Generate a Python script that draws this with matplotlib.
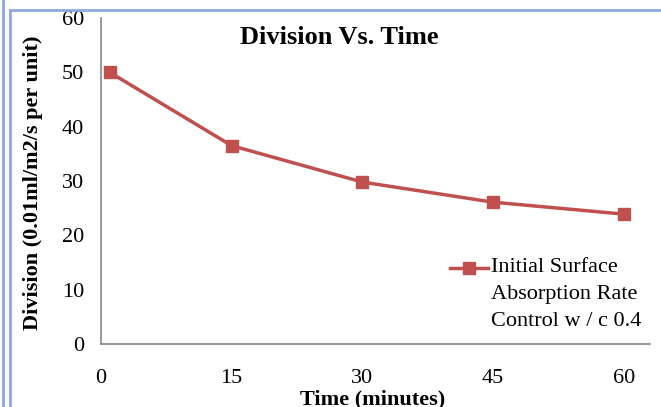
import matplotlib
matplotlib.use('Agg')
import matplotlib.pyplot as plt
from matplotlib.lines import Line2D

# Initial surface absorption readings, w/c 0.4 control mix
time_min = [1, 15, 30, 45, 60]
division = [50, 36.5, 29.8, 26.1, 23.9]
x_ticks = [0, 15, 30, 45, 60]
y_ticks = [0, 10, 20, 30, 40, 50, 60]
series_label = ["Initial Surface", "Absorption Rate", "Control w / c 0.4"]

RED = '#C0504D'
AXIS = '#868686'
FRAME = '#8EAADB'
W, H = 661, 407

plt.rcParams['font.family'] = ['Liberation Serif', 'DejaVu Serif']

fig = plt.figure(figsize=(W / 100, H / 100), dpi=100)
ax = fig.add_axes([101 / W, 1 - 344 / H, 549 / W, 326 / H])

ax.plot(time_min, division, color=RED, lw=2.5, marker='s', ms=8.5,
        markerfacecolor=RED, markeredgecolor=RED, clip_on=False)

ax.set_xlim(0, 63)
ax.set_ylim(0, 60)
ax.set_xticks(x_ticks)
ax.set_yticks(y_ticks)
ax.tick_params(axis='both', length=0, labelsize=16, colors='black')
ax.tick_params(axis='y', pad=12)
ax.tick_params(axis='x', pad=18)
for s in ('top', 'right'):
    ax.spines[s].set_visible(False)
for s in ('left', 'bottom'):
    ax.spines[s].set_color(AXIS)
    ax.spines[s].set_linewidth(1.2)

# titles sit in figure coords, like the spreadsheet layout
fig.text(339 / W, 1 - 38 / H, 'Division Vs. Time', ha='center', va='center',
         fontsize=19, fontweight='bold')
fig.text(33 / W, 1 - 183 / H, 'Division (0.01ml/m2/s per unit)', rotation=90,
         ha='center', va='center', fontsize=16, fontweight='bold')
fig.text(373 / W, 1 - 399 / H, 'Time (minutes)', ha='center', va='center',
         fontsize=16, fontweight='bold')

# legend entry: line with marker, then wrapped label
fig.add_artist(Line2D([450 / W, 488 / W], [1 - 268 / H] * 2, color=RED, lw=2.5))
fig.add_artist(Line2D([469 / W], [1 - 268 / H], color=RED, marker='s', ms=8.5))
for i, line in enumerate(series_label):
    fig.text(491 / W, 1 - (268 + 27 * i) / H, line, ha='left', va='center',
             fontsize=16)

# blue page frame around the chart object
fig.add_artist(Line2D([2.5 / W] * 2, [0, 1], color=FRAME, lw=2))
fig.add_artist(Line2D([10 / W] * 2, [0, 1 - 10 / H], color=FRAME, lw=2))
fig.add_artist(Line2D([10 / W, 1], [1 - 10 / H] * 2, color=FRAME, lw=2))

fig.savefig('out.png', dpi=100)
